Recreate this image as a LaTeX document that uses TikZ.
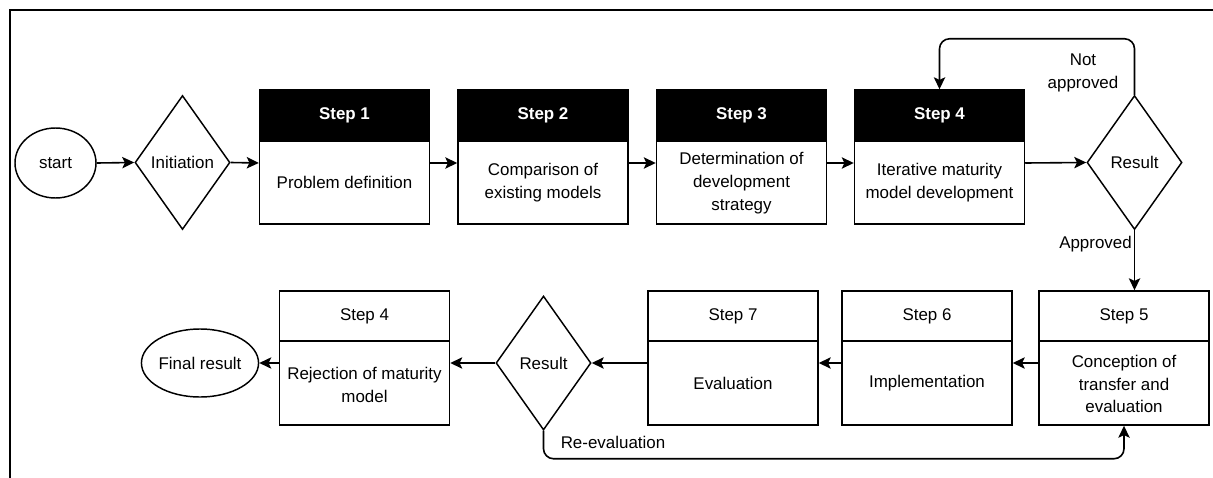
\documentclass[tikz,border=0pt]{standalone}
\usepackage{fontspec}
\setmainfont{Liberation Sans}
\usetikzlibrary{shapes.geometric,arrows.meta}
\begin{document}
\begin{tikzpicture}[x=0.75pt,y=-0.75pt,
  every node/.style={font=\fontsize{12.7}{17}\selectfont},
  box/.style={draw, line width=1.1pt, minimum width=127.5pt, minimum height=100.5pt, inner sep=0pt},
  darkhead/.style={fill=black, draw=black, line width=1.1pt, text=white, font=\fontsize{12.7}{17}\selectfont\bfseries, minimum width=127.5pt, minimum height=38.25pt, inner sep=0pt, anchor=north},
  lighthead/.style={draw, line width=1.1pt, minimum width=127.5pt, minimum height=37.5pt, inner sep=0pt, anchor=north},
  bodytext/.style={align=center, inner sep=0pt},
  dec/.style={diamond, draw, line width=1.1pt, minimum width=71.25pt, minimum height=100.5pt, inner sep=0pt},
  term/.style={ellipse, draw, line width=1.1pt, inner sep=0pt},
  arr/.style={-{Stealth[length=9pt,width=8.5pt,inset=2pt]}, line width=1.2pt},
  lbl/.style={align=center, inner sep=0pt},
]
\useasboundingbox (0,0) rectangle (1213,478);
% frame
\draw[line width=1.5pt] (10,478) -- (10,10) -- (1213,10);

% top row
\node[term, minimum width=60.75pt, minimum height=52.5pt] (start) at (55.5,163) {start};
\node[dec] (init) at (182.5,162.5) {Initiation};

\node[box] (s1) at (344.5,157) {};
\node[darkhead] (s1h) at (s1.north) {Step 1};
\node[bodytext] (s1t) at (344.5,182.5) {Problem definition};

\node[box] (s2) at (543,157) {};
\node[darkhead] (s2h) at (s2.north) {Step 2};
\node[bodytext] (s2t) at (543,182.5) {Comparison of\\existing models};

\node[box] (s3) at (741.5,157) {};
\node[darkhead] (s3h) at (s3.north) {Step 3};
\node[bodytext] (s3t) at (741.5,183) {Determination of\\development\\strategy};

\node[box] (s4) at (939.5,157) {};
\node[darkhead] (s4h) at (s4.north) {Step 4};
\node[bodytext] (s4t) at (939.5,182.5) {Iterative maturity\\model development};

\node[dec] (r1) at (1134.5,162.5) {Result};

% bottom row
\node[box] (s5) at (1124,358) {};
\node[lighthead] (s5h) at (s5.north) {Step 5};
\node[bodytext] (s5t) at (1124,384) {Conception of\\transfer and\\evaluation};

\node[box] (s6) at (927,358) {};
\node[lighthead] (s6h) at (s6.north) {Step 6};
\node[bodytext] (s6t) at (927,383) {Implementation};

\node[box] (s7) at (733,358) {};
\node[lighthead] (s7h) at (s7.north) {Step 7};
\node[bodytext] (s7t) at (733,383) {Evaluation};

\node[dec] (r2) at (543.5,363) {Result};

\node[box] (s8) at (364.5,358) {};
\node[lighthead] (s8h) at (s8.north) {Step 4};
\node[bodytext] (s8t) at (364.5,385) {Rejection of maturity\\model};

\node[term, minimum width=72pt, minimum height=51pt] (fin) at (200,363) {Final result};

% connectors top row
\draw[arr] (start.east) -- (init.west);
\draw[arr] (init.east) -- ([yshift=-4.5pt]s1.west);
\draw[arr] ([yshift=-4.5pt]s1.east) -- ([yshift=-4.5pt]s2.west);
\draw[arr] ([yshift=-4.5pt]s2.east) -- ([yshift=-4.5pt]s3.west);
\draw[arr] ([yshift=-4.5pt]s3.east) -- ([yshift=-4.5pt]s4.west);
\draw[arr] ([yshift=-4.5pt]s4.east) -- (r1.west);
\draw[arr, rounded corners=7.5pt] (r1.north) -- ++(0,-56) -| (s4.north);
\node[lbl] (napp) at (1083,73) {Not\\approved};
\draw[arr] (r1.south) -- (r1.south |- s5.north);
\node[lbl, anchor=east] (app) at (1132,244) {Approved};

% connectors bottom row
\draw[arr] ([yshift=-3.75pt]s5.west) -- ([yshift=-3.75pt]s6.east);
\draw[arr] ([yshift=-3.75pt]s6.west) -- ([yshift=-3.75pt]s7.east);
\draw[arr] ([yshift=-3.75pt]s7.west) -- (r2.east);
\draw[arr] (r2.west) -- ([yshift=-3.75pt]s8.east);
\draw[arr] ([yshift=-3.75pt]s8.west) -- (fin.east);
\draw[arr, rounded corners=7.5pt] (r2.south) -- ++(0,28) -| (s5.south);
\node[lbl] (reev) at (613,442) {Re-evaluation};
\end{tikzpicture}
\end{document}
